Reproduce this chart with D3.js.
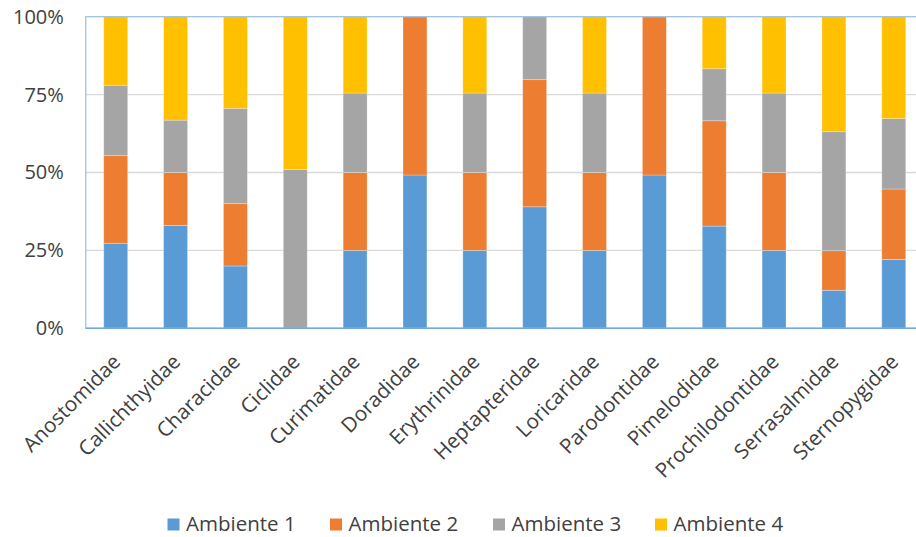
<!DOCTYPE html>
<html>
<head>
<meta charset="utf-8">
<script src="https://cdn.jsdelivr.net/npm/d3@7"></script>
<style>
  html, body { margin: 0; padding: 0; background: #fff; }
  svg { display: block; font-family: "Open Sans", "Noto Sans", sans-serif; }
</style>
</head>
<body>
<svg id="chart" width="916" height="537"></svg>
<script>
// Fish families and the share (%) of records in each environment
const families = ["Anostomidae", "Callichthyidae", "Characidae", "Ciclidae", "Curimatidae",
  "Doradidae", "Erythrinidae", "Heptapteridae", "Loricaridae", "Parodontidae",
  "Pimelodidae", "Prochilodontidae", "Serrasalmidae", "Sternopygidae"];

const seriesNames = ["Ambiente 1", "Ambiente 2", "Ambiente 3", "Ambiente 4"];

const ambiente1 = [27.3, 33.0, 20.0, 0, 25, 49.2, 25, 39.0, 25, 49.2, 32.8, 25, 12.2, 22.1];
const ambiente2 = [28.1, 17.0, 20.0, 0, 25, 50.8, 25, 40.8, 25, 50.8, 33.8, 25, 12.7, 22.6];
const ambiente3 = [22.6, 16.8, 30.6, 51.0, 25.5, 0, 25.5, 20.2, 25.5, 0, 16.7, 25.5, 38.2, 22.6];
const ambiente4 = [22.0, 33.2, 29.4, 49.0, 24.5, 0, 24.5, 0, 24.5, 0, 16.7, 24.5, 36.9, 32.7];

const yTicks = [0, 25, 50, 75, 100];
const colors = ["#5B9BD5", "#ED7D31", "#A5A5A5", "#FFC000"];

const rows = families.map((f, i) => ({
  family: f,
  "Ambiente 1": ambiente1[i],
  "Ambiente 2": ambiente2[i],
  "Ambiente 3": ambiente3[i],
  "Ambiente 4": ambiente4[i]
}));

const svg = d3.select("#chart");
const plot = { left: 85.8, top: 16.7, bottom: 328.3, right: 923.7 };

const x = d3.scaleBand()
  .domain(families)
  .range([plot.left, plot.right])
  .paddingInner(0.6)
  .paddingOuter(0.3);

const y = d3.scaleLinear().domain([0, 100]).range([plot.bottom, plot.top]);

// Horizontal gridlines
svg.append("g")
  .selectAll("line")
  .data(yTicks.filter(t => t > 0 && t < 100))
  .join("line")
  .attr("x1", plot.left).attr("x2", plot.right)
  .attr("y1", d => y(d)).attr("y2", d => y(d))
  .attr("stroke", "#D9D9D9").attr("stroke-width", 1.3);

// Stacked bars
const stacked = d3.stack().keys(seriesNames)(rows);

svg.append("g")
  .selectAll("g")
  .data(stacked)
  .join("g")
  .attr("fill", (d, i) => colors[i])
  .selectAll("rect")
  .data(d => d)
  .join("rect")
  .attr("x", d => x(d.data.family))
  .attr("width", x.bandwidth())
  .attr("y", d => y(d[1]))
  .attr("height", d => y(d[0]) - y(d[1]))
  .attr("stroke", "rgba(255,255,255,0.35)")
  .attr("stroke-width", 0.8);

// Plot area frame
svg.append("rect")
  .attr("x", plot.left).attr("y", plot.top)
  .attr("width", plot.right - plot.left).attr("height", plot.bottom - plot.top)
  .attr("fill", "none").attr("stroke", "#9DC3E6").attr("stroke-width", 1.3);

// Category axis line
svg.append("line")
  .attr("x1", plot.left).attr("x2", plot.right)
  .attr("y1", plot.bottom).attr("y2", plot.bottom)
  .attr("stroke", "#6FA8DC").attr("stroke-width", 1.5);

// Value axis labels
const yAxis = d3.axisLeft(y)
  .tickValues(yTicks)
  .tickFormat(d => d + "%")
  .tickSize(0)
  .tickPadding(22);

const yg = svg.append("g")
  .attr("transform", `translate(${plot.left},0)`)
  .call(yAxis);
yg.select(".domain").remove();
yg.selectAll("text")
  .attr("font-family", "'Open Sans', sans-serif")
  .attr("font-size", 20)
  .attr("fill", "#404040");

// Rotated category labels
svg.append("g")
  .selectAll("text")
  .data(families)
  .join("text")
  .attr("transform", d => `translate(${x(d) + x.bandwidth() / 2 + 6},363) rotate(-45)`)
  .attr("text-anchor", "end")
  .attr("font-size", 20.6)
  .attr("fill", "#404040")
  .text(d => d);

// Legend
const legendX = [167.5, 330, 493, 655];
const legend = svg.append("g")
  .selectAll("g")
  .data(seriesNames)
  .join("g")
  .attr("transform", (d, i) => `translate(${legendX[i]},518.5)`);

legend.append("rect")
  .attr("width", 12).attr("height", 12)
  .attr("fill", (d, i) => colors[i]);

legend.append("text")
  .attr("x", 18.5).attr("y", 12.3)
  .attr("font-size", 20.5)
  .attr("fill", "#404040")
  .text(d => d);
</script>
</body>
</html>
